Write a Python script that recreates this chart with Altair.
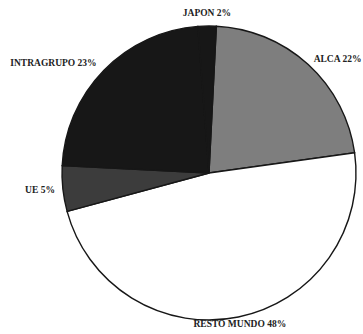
import math
import altair as alt
import pandas as pd

# Export shares by destination, clockwise from the top of the pie
labels = ["ALCA", "RESTO MUNDO", "UE", "INTRAGRUPO", "JAPON"]
shares = [22, 48, 5, 23, 2]

slice_colors = ["#7e7e7e", "#ffffff", "#3c3c3c", "#171717", "#171717"]

df = pd.DataFrame({"label": labels, "share": shares, "idx": range(len(labels))})

CX, CY, R = 209, 173, 147
OFFSET = 0.05  # slight clockwise rotation of the first slice

base = (
    alt.Chart(df)
    .transform_joinaggregate(total="sum(share)")
    .transform_window(cum="sum(share)", sort=[alt.SortField("idx")], frame=[None, 0])
    .transform_calculate(
        t0=f"(datum.cum - datum.share) / datum.total * 2 * PI + {OFFSET}",
        t1=f"datum.cum / datum.total * 2 * PI + {OFFSET}",
    )
    .transform_calculate(mid="(datum.t0 + datum.t1) / 2",
                         txt="datum.label + ' ' + datum.share + '%'")
)

pie = base.mark_arc(
    outerRadius=R, x=CX, y=CY, stroke="#171717", strokeWidth=1.4
).encode(
    theta=alt.Theta("t0:Q", scale=None),
    theta2="t1:Q",
    color=alt.Color("label:N", scale=alt.Scale(domain=labels, range=slice_colors), legend=None),
)

# label placement: (align, radius) per slice
label_style = {
    "ALCA": ("left", 155),
    "RESTO MUNDO": ("center", 154),
    "UE": ("right", 155),
    "INTRAGRUPO": ("right", 157),
    "JAPON": ("center", 160),
}

texts = []
for name, (align, rad) in label_style.items():
    texts.append(
        base.transform_filter(alt.datum.label == name)
        .mark_text(
            x=CX, y=CY, radius=rad, align=align, baseline="middle",
            font="Liberation Serif", fontWeight="bold", fontSize=9.5, color="#222222",
        )
        .encode(theta=alt.Theta("mid:Q", scale=None), text="txt:N")
    )

chart = (
    alt.layer(pie, *texts)
    .properties(width=363, height=334, autosize=alt.AutoSizeParams(type="none"), padding=0)
    .configure_view(stroke=None)
    .configure(background="white")
)

chart.save("out.html", embed_options={"renderer": "svg", "actions": False})
